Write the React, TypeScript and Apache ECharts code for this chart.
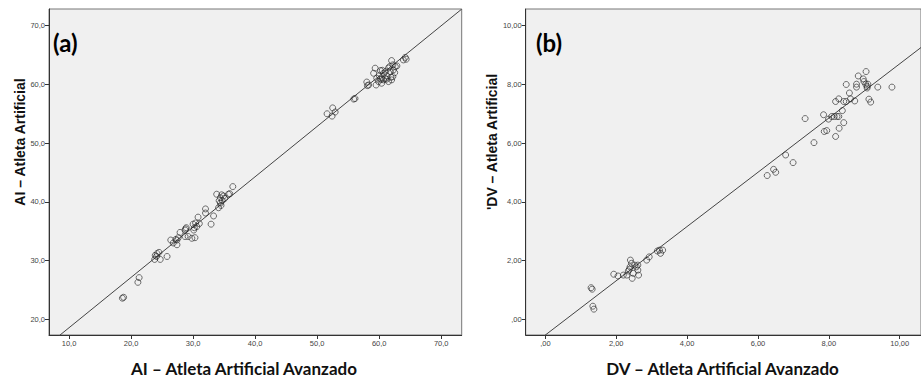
import React, { useEffect, useRef } from "react";
import * as echarts from "echarts";

// Panel (a): AI – Atleta Artificial Avanzado (x) vs AI – Atleta Artificial (y)
const aiPoints: [number, number][] = [
  [18.6, 23.6], [18.8, 23.75], [21.1, 26.3], [21.3, 27.1],
  [23.8, 30.2], [24.1, 30.7], [24.2, 31.2], [24.5, 31.4], [24.7, 30.2], [23.9, 30.9], [25.8, 30.7],
  [26.4, 33.5], [26.8, 33.0], [27.2, 33.6], [27.4, 33.5], [27.6, 33.9], [27.4, 32.7], [27.9, 34.8],
  [28.7, 35.2], [28.9, 35.6], [28.8, 35.4], [28.7, 34.1], [29.2, 34.1], [29.8, 33.8],
  [30.0, 36.2], [30.1, 35.2], [30.2, 35.6], [30.4, 36.4], [30.3, 33.9], [30.6, 35.8], [30.8, 37.4], [31.0, 36.3],
  [32.0, 38.8], [32.0, 38.1], [32.9, 36.2], [33.3, 37.6], [33.8, 41.3],
  [34.1, 39.0], [34.2, 40.2], [34.4, 40.7], [34.6, 41.2], [34.7, 40.2], [34.9, 41.0], [35.1, 40.6],
  [35.7, 41.3], [35.9, 41.4], [34.4, 39.8], [34.5, 39.4], [36.4, 42.6],
  [51.6, 55.0], [52.5, 56.0], [52.4, 54.6], [52.9, 55.3], [55.9, 57.5], [56.1, 57.6],
  [58.0, 60.4], [58.1, 59.8], [58.3, 59.9],
  [59.1, 61.9], [59.35, 62.76], [59.6, 61.06], [59.9, 60.48], [60.2, 62.35], [60.2, 60.89], [60.4, 60.2],
  [60.7, 60.77], [61.0, 62.18], [61.2, 61.45], [61.5, 60.48], [61.7, 63.04], [61.8, 62.18], [61.9, 61.22],
  [62.0, 64.06], [62.2, 63.32], [62.3, 62.47], [62.6, 63.04], [62.85, 63.15], [62.0, 60.77], [62.2, 61.33],
  [61.2, 60.89], [59.5, 59.9], [60.4, 60.9], [60.7, 61.9], [60.0, 61.5], [61.0, 61.0], [60.5, 62.4],
  [62.5, 62.0], [61.5, 62.8], [63.9, 64.17], [64.2, 64.6], [64.35, 64.29],
];

// Panel (b): DV – Atleta Artificial Avanzado (x) vs DV – Atleta Artificial (y)
const dvPoints: [number, number][] = [
  [1.29, 1.08], [1.32, 1.03], [1.34, 0.45], [1.37, 0.35],
  [1.93, 1.54], [2.05, 1.48], [2.2, 1.51], [2.3, 1.51],
  [2.34, 1.65], [2.37, 1.71], [2.39, 1.79], [2.4, 2.02], [2.43, 1.91], [2.45, 1.4], [2.48, 1.57],
  [2.52, 1.85], [2.57, 1.79], [2.61, 1.85], [2.61, 1.68], [2.63, 1.51],
  [2.86, 2.02], [2.93, 2.13], [3.16, 2.33], [3.22, 2.36], [3.25, 2.25], [3.31, 2.36],
  [6.26, 4.9], [6.44, 5.11], [6.5, 5.01], [6.78, 5.6], [6.99, 5.34], [7.33, 6.84], [7.58, 6.02],
  [7.85, 6.97], [7.87, 6.4], [7.94, 6.43], [7.99, 6.82],
  [8.08, 6.91], [8.15, 6.91], [8.23, 6.91], [8.28, 6.91], [8.19, 6.23], [8.29, 6.51], [8.42, 6.7],
  [8.19, 7.42], [8.28, 7.51], [8.38, 7.11], [8.42, 7.42], [8.49, 7.42], [8.49, 8.0],
  [8.58, 7.71], [8.61, 7.51], [8.73, 7.44], [8.78, 7.91], [8.78, 8.01], [8.83, 8.29],
  [8.97, 8.19], [8.99, 8.1], [9.04, 8.01], [9.08, 7.93], [9.05, 8.44], [9.08, 7.88], [9.1, 8.01],
  [9.13, 7.5], [9.18, 7.4], [9.38, 7.91], [9.78, 7.91],
];

// Linear fit lines (intercept, slope)
const aiFit = { intercept: 10.0, slope: 0.857 };
const dvFit = { intercept: -0.53, slope: 0.9235 };

const aiTicks = [10, 20, 30, 40, 50, 60, 70];
const dvTicks = [0, 2, 4, 6, 8, 10];

const aiRange = { xMin: 6.77, xMax: 73.3, yMin: 17.33, yMax: 72.84 };
const dvRange = { xMin: -0.555, xMax: 10.6, yMin: -0.53, yMax: 10.57 };

const fmtAI = (v: number) => v.toFixed(1).replace(".", ",");
const fmtDV = (v: number) => (v === 0 ? ",00" : v.toFixed(2).replace(".", ","));

const tickFont = "'Liberation Sans Narrow', 'Liberation Sans', Arial, sans-serif";
const titleFont = "Lato, 'Open Sans', sans-serif";
const yTitleFont = "'Liberation Sans', Arial, sans-serif";

function axis(gridIndex: number, min: number, max: number, ticks: number[], fmt: (v: number) => string) {
  return {
    type: "value",
    gridIndex,
    min,
    max,
    splitLine: { show: false },
    axisLine: { show: true, onZero: false, lineStyle: { color: "#333", width: 1 } },
    axisTick: { show: true, length: 4, customValues: ticks, lineStyle: { color: "#333", width: 1 } },
    axisLabel: {
      customValues: ticks,
      formatter: (v: number) => fmt(v),
      fontSize: 7.5,
      color: "#444",
      margin: 4,
      fontFamily: tickFont,
    },
  };
}

function fitLine(fit: { intercept: number; slope: number }, r: { xMin: number; xMax: number }) {
  return [
    [r.xMin, fit.intercept + fit.slope * r.xMin],
    [r.xMax, fit.intercept + fit.slope * r.xMax],
  ];
}

const scatterStyle = {
  symbol: "circle",
  symbolSize: 6,
  itemStyle: { color: "rgba(0,0,0,0)", borderColor: "#222", borderWidth: 0.8 },
};

export default function App() {
  const ref = useRef<HTMLDivElement>(null);

  useEffect(() => {
    if (!ref.current) return;
    const chart = echarts.init(ref.current, null, { renderer: "svg" });
    chart.setOption({
      animation: false,
      backgroundColor: "#ffffff",
      grid: [
        { left: 49, top: 9, width: 412.7, height: 326, show: true, backgroundColor: "#f0f0f0", borderColor: "#777", borderWidth: 1 },
        { left: 525.7, top: 9, width: 408.3, height: 326, show: true, backgroundColor: "#f0f0f0", borderColor: "#777", borderWidth: 1 },
      ],
      xAxis: [
        axis(0, aiRange.xMin, aiRange.xMax, aiTicks, fmtAI),
        axis(1, dvRange.xMin, dvRange.xMax, dvTicks, fmtDV),
      ],
      yAxis: [
        axis(0, aiRange.yMin, aiRange.yMax, aiTicks.filter((t) => t >= 20), fmtAI),
        axis(1, dvRange.yMin, dvRange.yMax, dvTicks, fmtDV),
      ],
      series: [
        {
          type: "line",
          xAxisIndex: 0,
          yAxisIndex: 0,
          data: fitLine(aiFit, aiRange),
          showSymbol: false,
          clip: true,
          lineStyle: { color: "#444", width: 1 },
          z: 2,
        },
        { type: "scatter", xAxisIndex: 0, yAxisIndex: 0, data: aiPoints, ...scatterStyle, z: 3 },
        {
          type: "line",
          xAxisIndex: 1,
          yAxisIndex: 1,
          data: fitLine(dvFit, dvRange),
          showSymbol: false,
          clip: true,
          lineStyle: { color: "#444", width: 1 },
          z: 2,
        },
        { type: "scatter", xAxisIndex: 1, yAxisIndex: 1, data: dvPoints, ...scatterStyle, z: 3 },
      ],
      graphic: [
        { type: "text", left: 53, top: 30, style: { text: "(a)", font: `bold 24px ${titleFont}`, fill: "#000" } },
        { type: "text", left: 536, top: 30, style: { text: "(b)", font: `bold 24px ${titleFont}`, fill: "#000" } },
        {
          type: "text", x: 244, y: 368,
          style: { text: "AI – Atleta Artificial Avanzado", font: `bold 17px ${titleFont}`, fill: "#111", align: "center", verticalAlign: "middle" },
        },
        {
          type: "text", x: 722.5, y: 368,
          style: { text: "DV – Atleta Artificial Avanzado", font: `bold 17px ${titleFont}`, fill: "#111", align: "center", verticalAlign: "middle" },
        },
        {
          type: "text", x: 20, y: 142, rotation: Math.PI / 2,
          style: { text: "AI – Atleta Artificial", font: `bold 14px ${yTitleFont}`, fill: "#111", align: "center", verticalAlign: "middle" },
        },
        {
          type: "text", x: 491.7, y: 142, rotation: Math.PI / 2,
          style: { text: "'DV – Atleta Artificial", font: `bold 14px ${yTitleFont}`, fill: "#111", align: "center", verticalAlign: "middle" },
        },
      ],
    });
    return () => chart.dispose();
  }, []);

  return <div ref={ref} style={{ position: "absolute", left: 0, top: 0, width: 921, height: 381 }} />;
}
